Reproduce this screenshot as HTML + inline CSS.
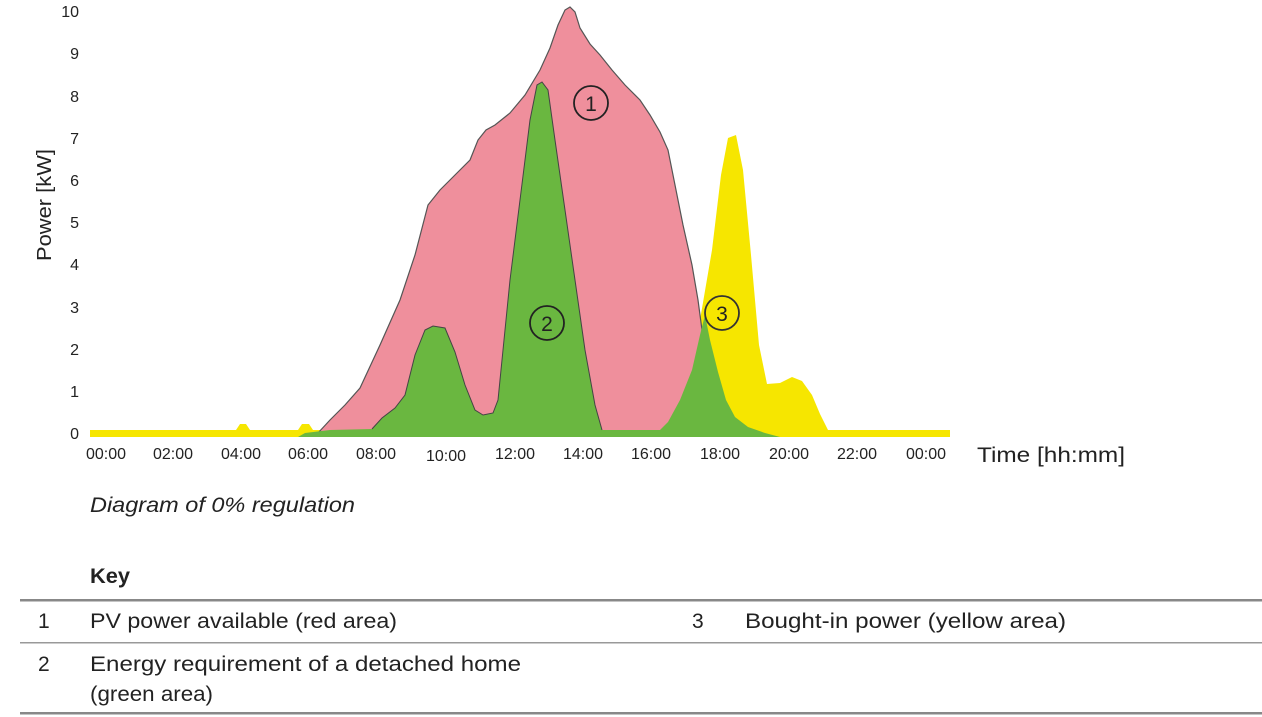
<!DOCTYPE html>
<html><head><meta charset="utf-8"><style>
html,body{margin:0;padding:0;background:#fff;}
svg{display:block;}
text{font-family:"Liberation Sans",sans-serif;fill:#222;}
</style></head><body>
<svg width="1262" height="717" viewBox="0 0 1262 717" xmlns="http://www.w3.org/2000/svg">
<path fill="#f6e600" d="M90,430 L236,430 L240,424 L246,424 L250,430 L298,430 L302,424 L309,424 L313,430 L700,430 L700,320 L712,250 L721,175 L728,138 L736,135 L743,170 L751,255 L759,345 L767,384 L780,383 L792,377 L802,381 L812,395 L820,414 L828,430 L950,430 L950,437 L90,437 Z"/>
<path fill="#ef8f9c" stroke="#555" stroke-width="1.2" d="M318,433 L330,420 L345,405 L360,388 L380,345 L400,300 L415,255 L428,205 L440,190 L455,175 L470,160 L478,140 L486,130 L495,125 L510,113 L525,95 L540,70 L550,48 L558,25 L565,10 L570,7 L575,12 L580,28 L590,44 L600,55 L612,70 L625,85 L640,100 L650,115 L660,132 L668,150 L675,185 L683,225 L692,265 L698,300 L702,330 L698,360 L690,385 L680,405 L668,430 L660,433 Z"/>
<path fill="#6ab740" d="M298,437 L305,433 L330,430 L372,429 L382,418 L395,408 L405,395 L415,355 L425,330 L433,326 L445,328 L455,352 L465,385 L475,410 L483,415 L493,413 L498,400 L503,350 L510,280 L520,200 L530,120 L537,85 L542,82 L548,90 L555,140 L565,210 L575,280 L585,350 L595,405 L602,430 L660,430 L668,422 L680,400 L692,370 L700,335 L705,315 L710,340 L718,372 L726,400 L735,417 L748,427 L765,433 L780,437 Z"/>
<path fill="none" stroke="#444" stroke-width="1" d="M372,429 L382,418 L395,408 L405,395 L415,355 L425,330 L433,326 L445,328 L455,352 L465,385 L475,410 L483,415 L493,413 L498,400 L503,350 L510,280 L520,200 L530,120 L537,85 L542,82 L548,90 L555,140 L565,210 L575,280 L585,350 L595,405 L602,430"/>
<circle cx="591" cy="103" r="17" fill="none" stroke="#222" stroke-width="1.8"/>
<text x="591" y="111" font-size="21" text-anchor="middle">1</text>
<circle cx="547" cy="323" r="17" fill="none" stroke="#222" stroke-width="1.8"/>
<text x="547" y="331" font-size="21" text-anchor="middle">2</text>
<circle cx="722" cy="313" r="17" fill="none" stroke="#333" stroke-width="1.8"/>
<text x="722" y="321" font-size="21" text-anchor="middle">3</text>
<g font-size="16" text-anchor="end">
<text x="79" y="439">0</text><text x="79" y="397">1</text><text x="79" y="355">2</text><text x="79" y="313">3</text><text x="79" y="270">4</text><text x="79" y="228">5</text><text x="79" y="186">6</text><text x="79" y="144">7</text><text x="79" y="102">8</text><text x="79" y="59">9</text><text x="79" y="17">10</text>
</g>
<text transform="translate(51,205) rotate(-90)" font-size="20" text-anchor="middle" textLength="112" lengthAdjust="spacingAndGlyphs">Power [kW]</text>
<g font-size="16" text-anchor="middle">
<text x="106" y="459">00:00</text><text x="173" y="459">02:00</text><text x="241" y="459">04:00</text><text x="308" y="459">06:00</text><text x="376" y="459">08:00</text><text x="446" y="461">10:00</text><text x="515" y="459">12:00</text><text x="583" y="459">14:00</text><text x="651" y="459">16:00</text><text x="720" y="459">18:00</text><text x="789" y="459">20:00</text><text x="857" y="459">22:00</text><text x="926" y="459">00:00</text>
</g>
<text x="977" y="462" font-size="21" textLength="148" lengthAdjust="spacingAndGlyphs">Time [hh:mm]</text>
<text x="90" y="512" font-size="21" font-style="italic" textLength="265" lengthAdjust="spacingAndGlyphs">Diagram of 0% regulation</text>
<text x="90" y="583" font-size="21" font-weight="bold" textLength="40" lengthAdjust="spacingAndGlyphs">Key</text>
<rect x="20" y="599" width="1242" height="2.5" fill="#888"/>
<text x="38" y="628" font-size="21">1</text>
<text x="90" y="628" font-size="21" textLength="307" lengthAdjust="spacingAndGlyphs">PV power available (red area)</text>
<text x="692" y="628" font-size="21">3</text>
<text x="745" y="628" font-size="21" textLength="321" lengthAdjust="spacingAndGlyphs">Bought-in power (yellow area)</text>
<rect x="20" y="642" width="1242" height="1.5" fill="#999"/>
<text x="38" y="671" font-size="21">2</text>
<text x="90" y="671" font-size="21" textLength="431" lengthAdjust="spacingAndGlyphs">Energy requirement of a detached home</text>
<text x="90" y="701" font-size="21" textLength="123" lengthAdjust="spacingAndGlyphs">(green area)</text>
<rect x="20" y="712" width="1242" height="2.5" fill="#888"/>
</svg>
</body></html>
